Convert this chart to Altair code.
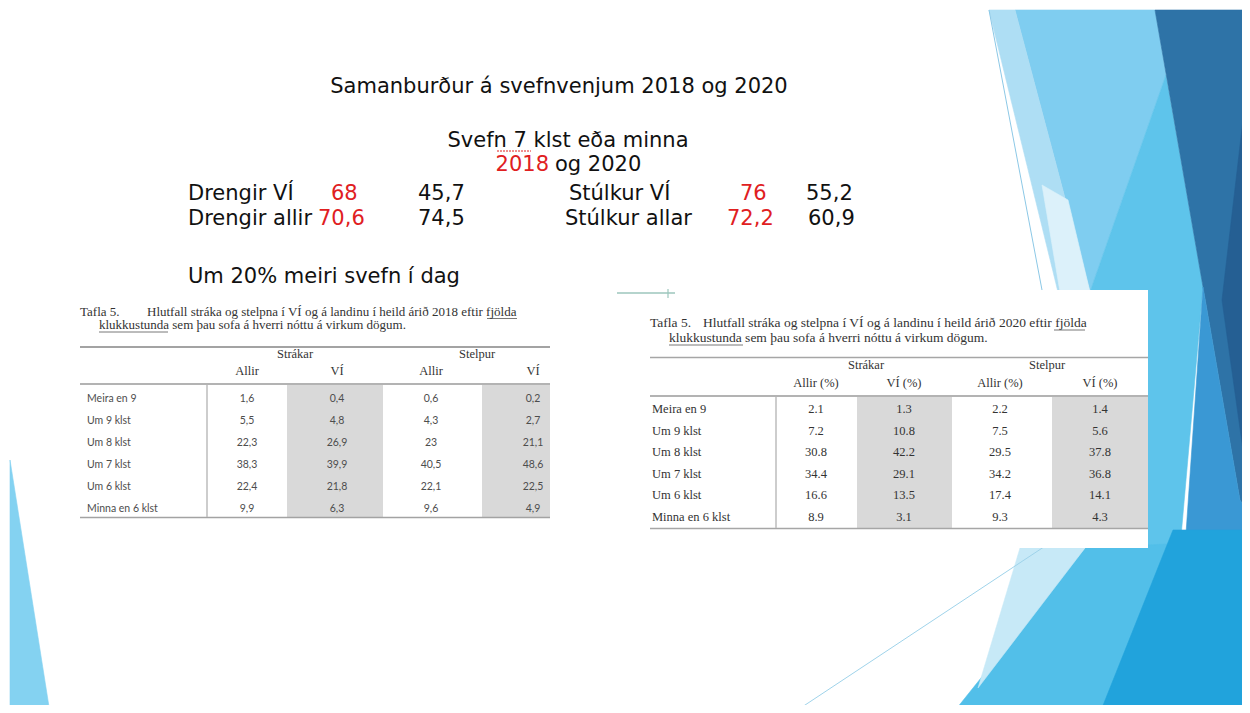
import altair as alt
import pandas as pd

# ---------------- data ----------------
title = "Samanburður á svefnvenjum 2018 og 2020"
subtitle = "Svefn 7 klst eða minna"
years = ["2018", "og 2020"]
summary_labels_left = ["Drengir VÍ", "Drengir allir"]
summary_2018_left = [68, 70.6]
summary_2020_left = [45.7, 74.5]
summary_labels_right = ["Stúlkur VÍ", "Stúlkur allar"]
summary_2018_right = [76, 72.2]
summary_2020_right = [55.2, 60.9]
note = "Um 20% meiri svefn í dag"

caption_2018 = ["Tafla 5.",
                "Hlutfall stráka og stelpna í VÍ og á landinu í heild árið 2018 eftir fjölda",
                "klukkustunda sem þau sofa á hverri nóttu á virkum dögum."]
caption_2020 = ["Tafla 5.",
                "Hlutfall stráka og stelpna í VÍ og á landinu í heild árið 2020 eftir fjölda",
                "klukkustunda sem þau sofa á hverri nóttu á virkum dögum."]

row_labels = ["Meira en 9", "Um 9 klst", "Um 8 klst", "Um 7 klst", "Um 6 klst", "Minna en 6 klst"]
groups = ["Strákar", "Stelpur"]
cols_2018 = ["Allir", "VÍ", "Allir", "VÍ"]
cols_2020 = ["Allir (%)", "VÍ (%)", "Allir (%)", "VÍ (%)"]

strakar_allir_2018 = [1.6, 5.5, 22.3, 38.3, 22.4, 9.9]
strakar_vi_2018 = [0.4, 4.8, 26.9, 39.9, 21.8, 6.3]
stelpur_allir_2018 = [0.6, 4.3, 23, 40.5, 22.1, 9.6]
stelpur_vi_2018 = [0.2, 2.7, 21.1, 48.6, 22.5, 4.9]

strakar_allir_2020 = [2.1, 7.2, 30.8, 34.4, 16.6, 8.9]
strakar_vi_2020 = [1.3, 10.8, 42.2, 29.1, 13.5, 3.1]
stelpur_allir_2020 = [2.2, 7.5, 29.5, 34.2, 17.4, 9.3]
stelpur_vi_2020 = [1.4, 5.6, 37.8, 36.8, 14.1, 4.3]

# ---------------- layout (page pixels) ----------------
W, H = 1234, 697
OFF = 8
BLACK = "#111111"
RED = "#e0201f"
TXT = "#333333"
TXT_L = "#4d4d4d"
GRAY = "#d9d9d9"


def px(v):
    return v - OFF


def fmt_is(v):
    return f"{v:g}".replace(".", ",")


def fmt_en(v):
    return f"{v:g}"


X = alt.X("x:Q", scale=alt.Scale(domain=[0, W], nice=False, zero=False), axis=None)
Y = alt.Y("y:Q", scale=alt.Scale(domain=[0, H], nice=False, zero=False, reverse=True), axis=None)


def text_layer(items, font, size, align="left", weight="normal", baseline="alphabetic"):
    df = pd.DataFrame([{"x": px(x), "y": px(y), "t": t, "c": c} for (t, x, y, c) in items])
    return alt.Chart(df).mark_text(font=font, fontSize=size, align=align, baseline=baseline,
                                   fontWeight=weight).encode(
        x=X, y=Y, text="t:N", color=alt.Color("c:N", scale=None))


def rule_layer(segs, dash=None, clip=False):
    df = pd.DataFrame([{"x": px(a), "y": px(b), "x2": px(c), "y2": px(d), "c": col, "w": w}
                       for (a, b, c, d, col, w) in segs])
    kw = {"clip": clip}
    if dash:
        kw["strokeDash"] = dash
    return alt.Chart(df).mark_rule(**kw).encode(
        x=X, y=Y, x2="x2:Q", y2="y2:Q",
        color=alt.Color("c:N", scale=None),
        strokeWidth=alt.StrokeWidth("w:Q", scale=None))


def rect_layer(rects):
    df = pd.DataFrame([{"x": px(a), "y": px(b), "x2": px(c), "y2": px(d), "c": col}
                       for (a, b, c, d, col) in rects])
    return alt.Chart(df).mark_rect().encode(
        x=X, y=Y, x2="x2:Q", y2="y2:Q", color=alt.Color("c:N", scale=None))


# ---------------- background decoration ----------------
bg_polys = [
    ("#84d2f1", [(10, 460), (10, 713), (50, 713)]),
    ("#7fcdf0", [(1015, 10), (1155, 10), (1166, 75), (1090, 292)]),
    ("#aedef4", [(989, 10), (1015, 10), (1090, 292), (1058, 292)]),
    ("#dcf1fa", [(1042, 185), (1068, 200), (1090, 292), (1060, 292)]),
    ("#5ec4eb", [(1166, 75), (1203, 287), (1180, 548), (1085, 548), (1090, 292)]),
    ("#2e73a7", [(1155, 10), (1250, 10), (1250, 515), (1240, 500)]),
    ("#255f93", [(1250, 60), (1250, 500), (1222, 300)]),
    ("#3a98d4", [(1203, 287), (1240, 500), (1250, 515), (1250, 545), (1185, 548)]),
    ("#52bfe9", [(1085, 548), (1250, 540), (1250, 713), (953, 713)]),
    ("#c7e9f7", [(1020, 548), (1085, 548), (978, 688)]),
    ("#21a3dc", [(1173, 530), (1250, 530), (1250, 713), (1100, 713)]),
]
features = []
for col, pts in bg_polys:
    ring = [[px(x), px(y)] for x, y in pts]
    ring.append(ring[0])
    features.append({"type": "Feature", "properties": {"fill": col},
                     "geometry": {"type": "Polygon", "coordinates": [ring]}})

bg = alt.Chart(alt.Data(values=features)).mark_geoshape(strokeWidth=0.6, clip=True).encode(
    color=alt.Color("properties.fill:N", scale=None),
    stroke=alt.Stroke("properties.fill:N", scale=None),
).project(type="identity", scale=1, translate=[0, 0])

bg_lines = rule_layer([
    (989, 10, 1042, 290, "#8cc8e6", 1),
    (793, 713, 1148, 478, "#9fd3ea", 1),
], clip=True)

# ---------------- tables ----------------
L_rows0, L_dy = 399, 22.0
R_rows0, R_dy = 409, 21.6
L_colx = [247, 337, 431, 533]
R_colx = [816, 904, 1000, 1100]

rects = [
    (620, 290, 1148, 548, "#ffffff"),
    (287, 385, 383, 517, GRAY), (482, 385, 550, 517, GRAY),
    (857, 397, 952, 528, GRAY), (1052, 397, 1148, 528, GRAY),
]

rules = [
    (80, 347, 550, 347, "#a3a3a3", 2),
    (80, 384, 550, 384, "#b3b3b3", 2),
    (80, 517.5, 550, 517.5, "#a3a3a3", 1.5),
    (207, 385, 207, 517, "#bdbdbd", 1.5),
    (650, 357.5, 1148, 357.5, "#a6a6a6", 1.5),
    (650, 396, 1148, 396, "#b3b3b3", 2),
    (650, 528.5, 1148, 528.5, "#a6a6a6", 1.5),
    (776, 397, 776, 528, "#bdbdbd", 1.5),
    # underlines
    (487, 318.5, 517, 318.5, "#555555", 0.8),
    (99, 332, 168, 332, "#555555", 0.8),
    (1054, 330, 1085, 330, "#555555", 0.8),
    (669, 345, 743, 345, "#555555", 0.8),
    # small green connector
    (617, 293, 675, 293, "#9cc6bc", 1.5),
    (668, 289, 668, 298, "#9cc6bc", 1.2),
]
spell = rule_layer([(497, 151, 531, 151, RED, 1)], dash=[2, 1])

# heading texts
head_center = [
    (title, 559, 93, BLACK),
    (subtitle, 568, 147, BLACK),
]
head_left = [(years[1], 555, 171, BLACK)]
head_right = [(years[0], 549, 171, RED)]
sum_x_left = [(188, 188), (331, 318), (418, 418)]
sum_x_right = [(569, 565), (740, 727), (806, 808)]
sum_y = [200, 225]
for i in range(2):
    head_left.append((summary_labels_left[i], sum_x_left[0][i], sum_y[i], BLACK))
    head_left.append((fmt_is(summary_2018_left[i]), sum_x_left[1][i], sum_y[i], RED))
    head_left.append((fmt_is(summary_2020_left[i]), sum_x_left[2][i], sum_y[i], BLACK))
    head_left.append((summary_labels_right[i], sum_x_right[0][i], sum_y[i], BLACK))
    head_left.append((fmt_is(summary_2018_right[i]), sum_x_right[1][i], sum_y[i], RED))
    head_left.append((fmt_is(summary_2020_right[i]), sum_x_right[2][i], sum_y[i], BLACK))
head_left.append((note, 188, 283, BLACK))

# captions
cap_left = [
    (caption_2018[0], 80, 316, TXT), (caption_2018[1], 147, 316, TXT), (caption_2018[2], 99, 329, TXT),
]
cap_right = [
    (caption_2020[0], 650, 327, TXT), (caption_2020[1], 703, 327, TXT), (caption_2020[2], 669, 342, TXT),
]
# headers
hdr_items = [
    (groups[0], 295, 358, TXT), (groups[1], 477, 358, TXT),
    (groups[0], 866, 369, TXT), (groups[1], 1047, 369, TXT),
]
for j in range(4):
    hdr_items.append((cols_2018[j], L_colx[j], 375, TXT))
    hdr_items.append((cols_2020[j], R_colx[j], 387, TXT))

L_vals = [strakar_allir_2018, strakar_vi_2018, stelpur_allir_2018, stelpur_vi_2018]
R_vals = [strakar_allir_2020, strakar_vi_2020, stelpur_allir_2020, stelpur_vi_2020]
L_lab, L_cell, R_lab, R_cell = [], [], [], []
for i, lab in enumerate(row_labels):
    yl = L_rows0 + i * L_dy
    yr = R_rows0 + i * R_dy
    L_lab.append((lab, 87, yl, TXT_L))
    R_lab.append((lab, 652, yr, TXT))
    for j in range(4):
        L_cell.append((fmt_is(L_vals[j][i]), L_colx[j], yl, TXT_L))
        R_cell.append((fmt_en(R_vals[j][i]), R_colx[j], yr, TXT))

HF = "DejaVu Sans"
SERIF = "Liberation Serif"
SANS = "Lato"

chart = alt.layer(
    bg,
    bg_lines,
    rect_layer(rects),
    rule_layer(rules),
    spell,
    text_layer(head_center, HF, 21, align="center"),
    text_layer(head_left, HF, 21, align="left"),
    text_layer(head_right, HF, 21, align="right"),
    text_layer(cap_left, SERIF, 13, align="left"),
    text_layer(cap_right, SERIF, 13.5, align="left"),
    text_layer(hdr_items, SERIF, 12.5, align="center"),
    text_layer(L_lab, SANS, 10.5, align="left", baseline="middle"),
    text_layer(L_cell, SANS, 10.5, align="center", baseline="middle"),
    text_layer(R_lab, SERIF, 12.5, align="left", baseline="middle"),
    text_layer(R_cell, SERIF, 12.5, align="center", baseline="middle"),
).properties(
    width=W, height=H, padding=0,
    autosize=alt.AutoSizeParams(type="none"),
    background="#ffffff",
).configure_view(stroke=None)

chart.save("out.html", embed_options={"renderer": "svg", "actions": False})
